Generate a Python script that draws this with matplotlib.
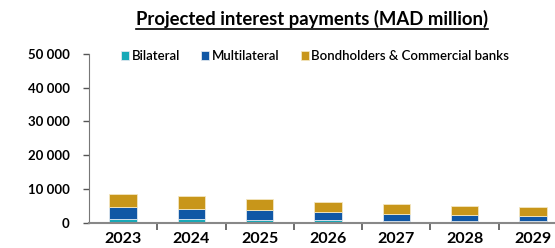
import matplotlib
matplotlib.use("Agg")
import matplotlib.pyplot as plt
import numpy as np
from matplotlib.lines import Line2D
from matplotlib.ticker import FuncFormatter

years = ["2023", "2024", "2025", "2026", "2027", "2028", "2029"]
bilateral = [1100, 1000, 850, 750, 550, 500, 450]
multilateral = [3400, 3050, 2800, 2350, 2050, 1600, 1500]
bondholders = [3950, 3750, 3250, 2950, 2850, 2650, 2650]

plt.rcParams["font.family"] = ["Lato", "DejaVu Sans"]

W, H = 555, 248
fig = plt.figure(figsize=(W / 100, H / 100), dpi=100)
ax = fig.add_axes([89 / W, (H - 222.5) / H, (567 - 89) / W, (222.5 - 54) / H])

x = np.arange(len(years))
b1 = np.array(bilateral)
b2 = b1 + np.array(multilateral)
width = 0.4
ax.bar(x, bilateral, width, color="#17a9b8", edgecolor="#dfe8f0", linewidth=0.6, label="Bilateral")
ax.bar(x, multilateral, width, bottom=b1, color="#1057a5", edgecolor="#dfe8f0", linewidth=0.6, label="Multilateral")
ax.bar(x, bondholders, width, bottom=b2, color="#c8961a", edgecolor="#f3e6c0", linewidth=0.6,
       label="Bondholders & Commercial banks")

ax.set_xlim(-0.5, 6.5)
ax.set_ylim(0, 50000)
ax.set_yticks(range(0, 50001, 10000))
ax.yaxis.set_major_formatter(FuncFormatter(lambda v, p: f"{int(v):,}".replace(",", " ")))
ax.set_xticks(x)
ax.set_xticklabels(years)
ax.set_xticks(x[:-1] + 0.5, minor=True)
ax.tick_params(axis="x", which="major", length=0, pad=7, labelsize=11.5)
ax.tick_params(axis="x", which="minor", length=5, width=1.2, color="#555555", direction="out")
ax.tick_params(axis="y", length=4, width=1, color="#555555", pad=10, labelsize=9.5)
for lab in ax.get_xticklabels() + ax.get_yticklabels():
    lab.set_fontweight("bold")

for s in ["top", "right"]:
    ax.spines[s].set_visible(False)
ax.spines["left"].set_color("#777777")
ax.spines["bottom"].set_color("#888888")
ax.spines["bottom"].set_linewidth(1.5)

leg = ax.legend(loc="upper left", bbox_to_anchor=(116 / W, 1 - 45 / H), bbox_transform=fig.transFigure,
                ncol=3, frameon=False, handlelength=0.6, handleheight=0.6, handletextpad=0.2,
                columnspacing=1.6, prop={"size": 9.5, "weight": "semibold"}, borderaxespad=0)

title = fig.text(312 / W, 1 - 19 / H, "Projected interest payments (MAD million)", ha="center", va="center",
                 fontsize=13.3, fontweight="bold")
fig.canvas.draw()
bb = title.get_window_extent().transformed(fig.transFigure.inverted())
fig.add_artist(Line2D([bb.x0, bb.x1], [bb.y0 - 0.004, bb.y0 - 0.004], color="black", lw=1.2,
                      transform=fig.transFigure))

fig.savefig("out.png", dpi=100)
